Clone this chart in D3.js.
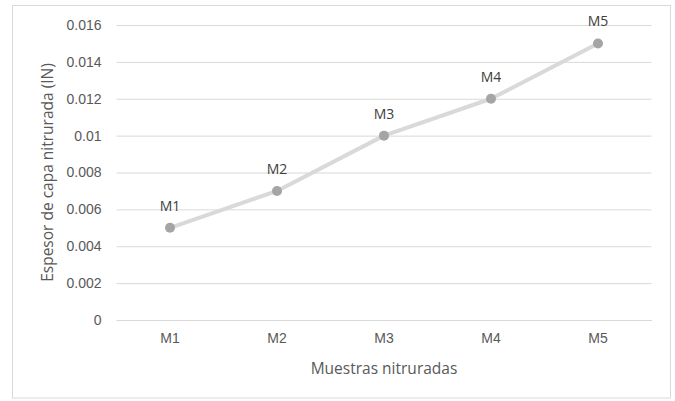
<!DOCTYPE html>
<html>
<head>
<meta charset="utf-8">
<script src="https://cdn.jsdelivr.net/npm/d3@7"></script>
<style>
  html, body { margin: 0; padding: 0; background: #fff; }
  svg { display: block; font-family: "Open Sans", "Liberation Sans", sans-serif; }
</style>
</head>
<body>
<svg id="chart" width="675" height="401"></svg>
<script>
// Samples and measured nitrided layer thickness (inches)
const categories = ["M1", "M2", "M3", "M4", "M5"];
const thickness = [0.005, 0.007, 0.010, 0.012, 0.015];
const pointLabels = ["M1", "M2", "M3", "M4", "M5"];
const yTicks = [0, 0.002, 0.004, 0.006, 0.008, 0.01, 0.012, 0.014, 0.016];

const svg = d3.select("#chart");
const plot = { left: 116.5, right: 651.5, top: 25, bottom: 320 };

// chart frame
svg.append("rect")
  .attr("x", 12.5).attr("y", 5.5)
  .attr("width", 658).attr("height", 392.5)
  .attr("fill", "#fff").attr("stroke", "#d9d9d9").attr("stroke-width", 1);

const x = d3.scaleBand().domain(categories).range([plot.left, plot.right]);
const y = d3.scaleLinear().domain([0, 0.016]).range([plot.bottom, plot.top]);

// horizontal gridlines + y tick labels
const yAxis = d3.axisLeft(y).tickValues(yTicks)
  .tickSize(-(plot.right - plot.left)).tickPadding(15)
  .tickFormat(d => d === 0 ? "0" : String(+d.toFixed(3)));
const gy = svg.append("g").attr("transform", `translate(${plot.left},0)`).call(yAxis);
gy.select(".domain").remove();
gy.selectAll(".tick line").attr("stroke", "#d9d9d9").attr("stroke-width", 1);
gy.selectAll(".tick text").attr("fill", "#595959").style("font-size", "14px");

// category axis
const xAxis = d3.axisBottom(x).tickSize(0).tickPadding(13);
const gx = svg.append("g").attr("transform", `translate(0,${plot.bottom})`).call(xAxis);
gx.select(".domain").attr("stroke", "#d9d9d9");
gx.selectAll(".tick text").attr("fill", "#595959").style("font-size", "14px");

// axis titles
svg.append("text")
  .attr("x", (plot.left + plot.right) / 2).attr("y", 374)
  .attr("text-anchor", "middle").attr("fill", "#595959").style("font-size", "15.5px")
  .text("Muestras nitruradas");
svg.append("text")
  .attr("transform", `translate(53,${(plot.top + plot.bottom) / 2}) rotate(-90)`)
  .attr("text-anchor", "middle").attr("fill", "#595959").style("font-size", "15.5px")
  .text("Espesor de capa nitrurada (IN)");

const cx = (d, i) => x(categories[i]) + x.bandwidth() / 2;

// series line
const line = d3.line().x((d, i) => cx(d, i)).y(d => y(d));
svg.append("path").datum(thickness)
  .attr("d", line).attr("fill", "none")
  .attr("stroke", "#d9d9d9").attr("stroke-width", 4)
  .attr("stroke-linejoin", "round").attr("stroke-linecap", "round");

// markers
svg.selectAll("circle.pt").data(thickness).join("circle")
  .attr("class", "pt")
  .attr("cx", cx).attr("cy", d => y(d)).attr("r", 5)
  .attr("fill", "#a5a5a5");

// data labels
svg.selectAll("text.lbl").data(thickness).join("text")
  .attr("class", "lbl")
  .attr("x", cx).attr("y", d => y(d) - 17)
  .attr("text-anchor", "middle").attr("fill", "#404040").style("font-size", "14px")
  .text((d, i) => pointLabels[i]);
</script>
</body>
</html>
